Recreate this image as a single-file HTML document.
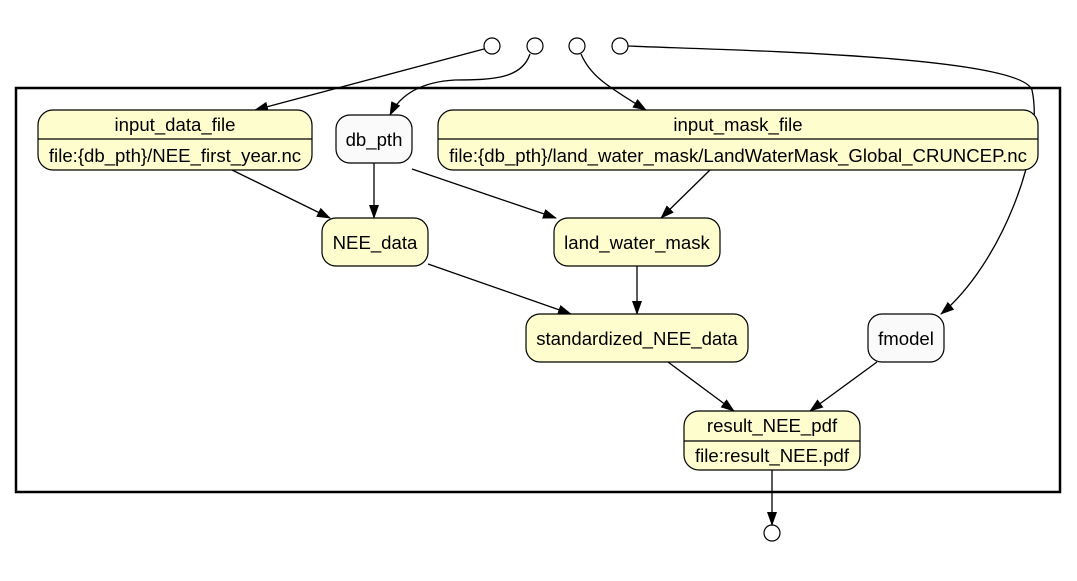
<!DOCTYPE html>
<html><head><style>body{margin:0;background:#fff}svg{display:block}text{font-family:"Liberation Sans",Arial,sans-serif;font-size:18.6px;fill:#000}</style></head><body>
<svg width="1077" height="581" viewBox="0 0 1077 581" xmlns="http://www.w3.org/2000/svg">
<defs><marker id="a" markerWidth="14" markerHeight="10" refX="13" refY="5" orient="auto" markerUnits="userSpaceOnUse"><path d="M0,0 L14,5 L0,10 z" fill="#000"/></marker></defs>
<rect x="16" y="88" width="1044" height="404" fill="none" stroke="#000" stroke-width="2.5"/>
<g fill="#fff" stroke="#000" stroke-width="1.2">
<circle cx="492" cy="46" r="8"/><circle cx="535" cy="46" r="8"/><circle cx="577" cy="46" r="8"/><circle cx="620" cy="46" r="8"/><circle cx="772" cy="533" r="8"/>
</g>
<g fill="none" stroke="#000" stroke-width="1.3" marker-end="url(#a)">
<path d="M484,49 L255,110"/>
<path d="M530,54 C522,78 495,80 455,80 C420,82 400,95 390,115"/>
<path d="M581,54 C590,75 605,85 646,110"/>
<path d="M628,46 C720,50 1020,55 1032,90 C1045,150 1000,265 941,314"/>
<path d="M232,170 L330,218"/>
<path d="M374,163 L374,218"/>
<path d="M412,169 L556,218"/>
<path d="M710,170 L661,218"/>
<path d="M428,264 L571,314"/>
<path d="M637,266 L637,314"/>
<path d="M668,362 L734,411"/>
<path d="M877,362 L810,411"/>
<path d="M772,470 L772,525"/>
</g>
<g stroke="#000" stroke-width="1.2">
<rect x="38" y="110" width="274" height="60" rx="15" fill="#fdfdcd"/><line x1="38" y1="139" x2="312" y2="139"/>
<rect x="336" y="115" width="76" height="48" rx="14" fill="#fafafa"/>
<rect x="438" y="110" width="600" height="60" rx="15" fill="#fdfdcd"/><line x1="438" y1="139" x2="1038" y2="139"/>
<rect x="322" y="218" width="106" height="48" rx="14" fill="#fdfdcd"/>
<rect x="554" y="218" width="166" height="48" rx="14" fill="#fdfdcd"/>
<rect x="526" y="314" width="222" height="48" rx="14" fill="#fdfdcd"/>
<rect x="868" y="314" width="76" height="48" rx="14" fill="#fafafa"/>
<rect x="684" y="411" width="176" height="59" rx="15" fill="#fdfdcd"/><line x1="684" y1="441" x2="860" y2="441"/>
</g>
<g text-anchor="middle">
<text x="175" y="131">input_data_file</text><text x="175" y="162">file:{db_pth}/NEE_first_year.nc</text>
<text x="374" y="146">db_pth</text>
<text x="738" y="131">input_mask_file</text><text x="738" y="162">file:{db_pth}/land_water_mask/LandWaterMask_Global_CRUNCEP.nc</text>
<text x="375" y="249">NEE_data</text>
<text x="637" y="249">land_water_mask</text>
<text x="637" y="345">standardized_NEE_data</text>
<text x="906" y="345">fmodel</text>
<text x="772" y="432">result_NEE_pdf</text><text x="772" y="462">file:result_NEE.pdf</text>
</g>
</svg>
</body></html>
